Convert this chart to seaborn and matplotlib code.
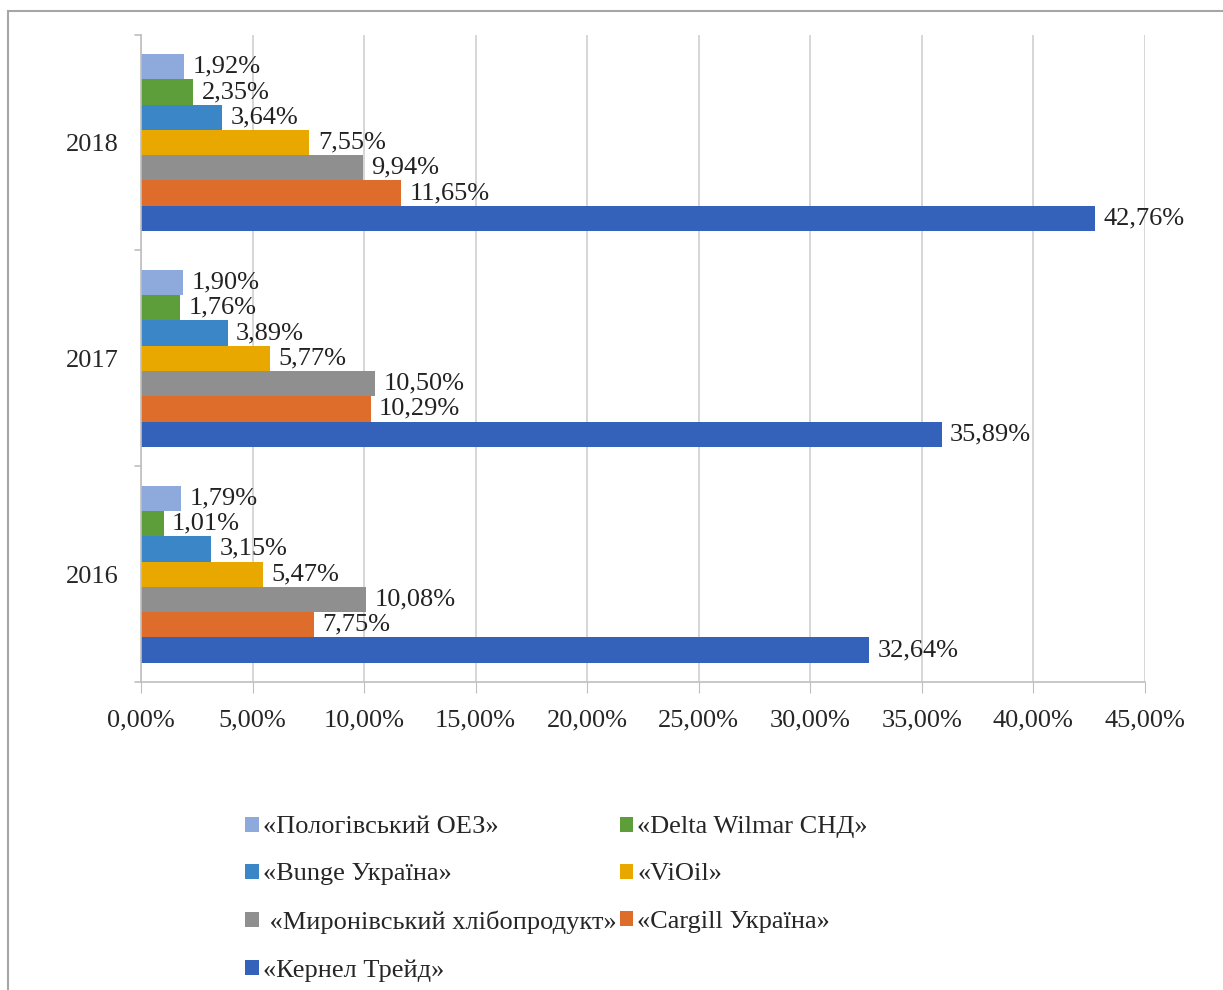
import pandas as pd
import matplotlib
matplotlib.use("Agg")
import matplotlib.pyplot as plt
import seaborn as sns
from matplotlib.patches import Rectangle

# Дані з діаграми (частки ринку, %)
years = ["2018", "2017", "2016"]
companies = [
    "«Пологівський ОЕЗ»",
    "«Delta Wilmar СНД»",
    "«Bunge Україна»",
    "«ViOil»",
    " «Миронівський хлібопродукт»",
    "«Cargill Україна»",
    "«Кернел Трейд»",
]
polohy = [1.92, 1.90, 1.79]
delta = [2.35, 1.76, 1.01]
bunge = [3.64, 3.89, 3.15]
vioil = [7.55, 5.77, 5.47]
myronivsky = [9.94, 10.50, 10.08]
cargill = [11.65, 10.29, 7.75]
kernel = [42.76, 35.89, 32.64]
series = [polohy, delta, bunge, vioil, myronivsky, cargill, kernel]
colors = ["#8EA9DB", "#5E9E3A", "#3A86C6", "#E8A800", "#8F8F8F", "#DE6C2A", "#3461B9"]
xticks = [0, 5, 10, 15, 20, 25, 30, 35, 40, 45]

rows = []
for comp, vals in zip(companies, series):
    for yr, v in zip(years, vals):
        rows.append({"Рік": yr, "Компанія": comp, "Частка": v})
df = pd.DataFrame(rows)

sns.set_style("white")
plt.rcParams["font.family"] = ["Liberation Serif", "DejaVu Serif"]
fs = 19

fig = plt.figure(figsize=(12.23, 9.9), dpi=100)
ax = fig.add_axes([0.1153, 0.311, 0.8209, 0.654])

sns.barplot(data=df, y="Рік", x="Частка", hue="Компанія", order=years,
            hue_order=companies, palette=colors, orient="h", width=0.82,
            saturation=1, linewidth=0, ax=ax, legend=True)

for cont in ax.containers:
    labels = [f"{b.get_width():.2f}%".replace(".", ",") for b in cont]
    ax.bar_label(cont, labels=labels, padding=6, fontsize=fs, color="#222222")

ax.set_xlim(0, 45)
ax.set_ylim(2.5, -0.5)
ax.set_xticks(xticks)
ax.set_xticklabels([f"{t:.2f}%".replace(".", ",") for t in xticks], fontsize=fs)
ax.tick_params(axis="y", labelsize=fs, length=0, pad=16)
ax.tick_params(axis="x", length=8, color="#BFBFBF", pad=12, bottom=True, direction="out")
ax.set_xlabel("")
ax.set_ylabel("")
ax.grid(axis="x", color="#D0D0D0", linewidth=1.2)
ax.set_axisbelow(True)
for s in ["top", "right"]:
    ax.spines[s].set_visible(False)
for s in ["left", "bottom"]:
    ax.spines[s].set_color("#BFBFBF")
    ax.spines[s].set_linewidth(1.2)

# засічки між категоріями на вертикальній осі
for yb in [-0.5, 0.5, 1.5, 2.5]:
    ax.plot([-0.25, 0], [yb, yb], color="#BFBFBF", lw=1.2, clip_on=False,
            transform=ax.transData)

# легенда у два стовпці, порядок як в оригіналі
handles, labs = ax.get_legend_handles_labels()
ax.get_legend().remove()
idx = [0, 2, 4, 6, 1, 3, 5]
fig.legend([handles[i] for i in idx], [labs[i] for i in idx], ncol=2,
           loc="upper left", bbox_to_anchor=(0.192, 0.186), frameon=False,
           fontsize=fs, handlelength=0.5, handleheight=0.5, handletextpad=0.15,
           labelspacing=0.95, columnspacing=0.15, borderaxespad=0)

fig.patches.append(Rectangle((0.0065, -0.01), 1.2, 0.999, transform=fig.transFigure,
                             fill=False, edgecolor="#A6A6A6", linewidth=1.5))

fig.savefig("out.png", dpi=100, facecolor="white")
